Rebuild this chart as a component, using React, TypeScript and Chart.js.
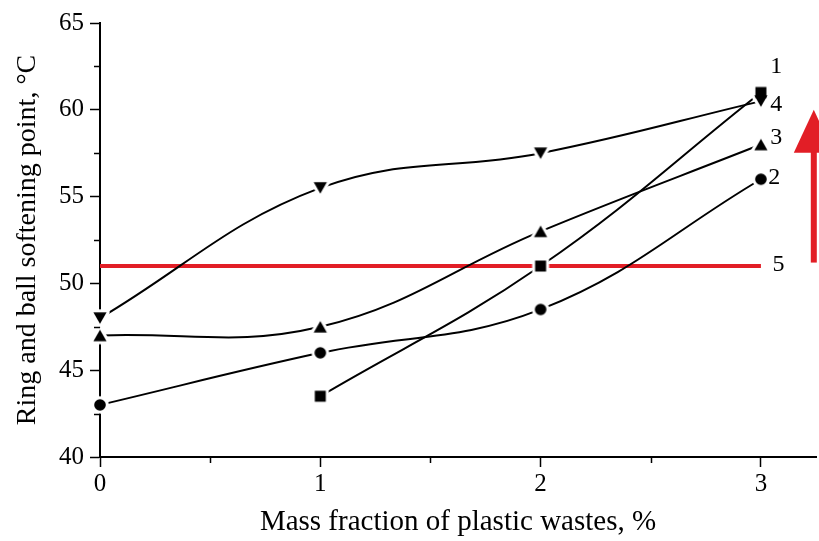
import React, { useEffect, useRef } from 'react';
import { Chart, registerables } from 'chart.js';

Chart.register(...registerables);

// ---- data ----
const fractions = [0, 1, 2, 3];
const curve1 = [null, 43.5, 51, 61];
const curve2 = [43, 46, 48.5, 56];
const curve3 = [47, 47.5, 53, 58];
const curve4 = [48, 55.5, 57.5, 60.5];
const line5Level = 51;
const line5Range = [0, 3];

const xTicks = [0, 1, 2, 3];
const yTicks = [40, 45, 50, 55, 60, 65];
const xMinorTicks = [0.5, 1.5, 2.5];
const yMinorTicks = [42.5, 47.5, 52.5, 57.5, 62.5];

const curveNames = ['1', '2', '3', '4', '5'];
const curveLabelX = [3.07, 3.06, 3.07, 3.07, 3.08];
const curveLabelY = [62.5, 56.1, 58.4, 60.3, 51.05];

const arrowX = 3.24;
const arrowFrom = 51.2;
const arrowTo = 60;

const X_TITLE = 'Mass fraction of plastic wastes, %';
const Y_TITLE = 'Ring and ball softening point, °C';

// ---- styles ----
const FONT = "'Liberation Serif', 'Times New Roman', 'DejaVu Serif', serif";
const RED = 'rgb(226,30,38)';

function makeMarker(kind: string, halo: boolean): HTMLCanvasElement {
  const c = document.createElement('canvas');
  c.width = 26;
  c.height = 26;
  const g = c.getContext('2d')!;
  const cx = 13, cy = 13;
  g.beginPath();
  if (kind === 'square') {
    g.rect(cx - 5.5, cy - 5.5, 11, 11);
  } else if (kind === 'circle') {
    g.arc(cx, cy, 5.8, 0, Math.PI * 2);
  } else if (kind === 'up') {
    g.moveTo(cx, cy - 5.8);
    g.lineTo(cx + 6.6, cy + 5.8);
    g.lineTo(cx - 6.6, cy + 5.8);
    g.closePath();
  } else {
    g.moveTo(cx, cy + 5.8);
    g.lineTo(cx + 6.6, cy - 5.8);
    g.lineTo(cx - 6.6, cy - 5.8);
    g.closePath();
  }
  if (halo) {
    g.lineJoin = 'round';
    g.lineWidth = 6;
    g.strokeStyle = '#fff';
    g.stroke();
    g.fillStyle = '#fff';
  } else {
    g.fillStyle = '#000';
  }
  g.fill();
  return c;
}

const toPoints = (ys: (number | null)[]) =>
  fractions
    .map((x, i) => ({ x, y: ys[i] }))
    .filter((p) => p.y !== null) as { x: number; y: number }[];

const decorPlugin = {
  id: 'decor',
  afterDraw(chart: any) {
    const { ctx, chartArea } = chart;
    const x = chart.scales.x;
    const y = chart.scales.y;
    ctx.save();
    // minor ticks
    ctx.strokeStyle = '#000';
    ctx.lineWidth = 1.5;
    xMinorTicks.forEach((v) => {
      const px = Math.round(x.getPixelForValue(v)) + 0.5;
      ctx.beginPath();
      ctx.moveTo(px, chartArea.bottom);
      ctx.lineTo(px, chartArea.bottom + 6);
      ctx.stroke();
    });
    yMinorTicks.forEach((v) => {
      const py = Math.round(y.getPixelForValue(v)) + 0.5;
      ctx.beginPath();
      ctx.moveTo(chartArea.left, py);
      ctx.lineTo(chartArea.left - 6, py);
      ctx.stroke();
    });
    // curve labels
    ctx.fillStyle = '#000';
    ctx.font = `24px ${FONT}`;
    ctx.textAlign = 'center';
    ctx.textBaseline = 'middle';
    curveNames.forEach((t, i) => {
      ctx.fillText(t, x.getPixelForValue(curveLabelX[i]), y.getPixelForValue(curveLabelY[i]));
    });
    // red arrow
    const ax = x.getPixelForValue(arrowX);
    const y0 = y.getPixelForValue(arrowFrom);
    const y1 = y.getPixelForValue(arrowTo);
    const headLen = 43;
    const headHalf = 20;
    const shaft = 6;
    ctx.fillStyle = RED;
    ctx.fillRect(ax - shaft / 2, y1 + headLen - 1, shaft, y0 - (y1 + headLen) + 1);
    ctx.beginPath();
    ctx.moveTo(ax, y1);
    ctx.lineTo(ax + headHalf, y1 + headLen);
    ctx.lineTo(ax - headHalf, y1 + headLen);
    ctx.closePath();
    ctx.fill();
    ctx.restore();
  },
};

export default function App() {
  const ref = useRef<HTMLCanvasElement | null>(null);

  useEffect(() => {
    if (!ref.current) return;
    const curves = [
      { name: '1', values: curve1, kind: 'square' },
      { name: '2', values: curve2, kind: 'circle' },
      { name: '3', values: curve3, kind: 'up' },
      { name: '4', values: curve4, kind: 'down' },
    ];

    const datasets: any[] = [];
    curves.forEach((c) => {
      const pts = toPoints(c.values);
      // curve (bottom layer)
      datasets.push({
        label: c.name,
        data: pts,
        borderColor: '#000',
        borderWidth: 2,
        tension: 0.4,
        fill: false,
        pointRadius: 0,
        clip: false,
        order: 3,
      });
      // white halo round markers (middle layer)
      datasets.push({
        label: c.name + ' halo',
        data: pts,
        showLine: false,
        pointStyle: makeMarker(c.kind, true),
        pointRadius: 8,
        clip: false,
        order: 2,
      });
      // black markers (top layer)
      datasets.push({
        label: c.name + ' marker',
        data: pts,
        showLine: false,
        pointStyle: makeMarker(c.kind, false),
        pointRadius: 8,
        clip: false,
        order: 1,
      });
    });
    datasets.push({
      label: '5',
      data: line5Range.map((x) => ({ x, y: line5Level })),
      borderColor: RED,
      borderWidth: 4,
      pointRadius: 0,
      tension: 0,
      fill: false,
      order: 3,
    });

    const chart = new Chart(ref.current, {
      type: 'line',
      data: { datasets },
      options: {
        responsive: false,
        animation: false,
        layout: { autoPadding: false, padding: { top: 23, right: 3, left: 0, bottom: 0 } },
        plugins: { legend: { display: false }, tooltip: { enabled: false } },
        scales: {
          x: {
            type: 'linear',
            min: 0,
            max: 3.25,
            z: 1,
            afterBuildTicks: (s: any) => {
              s.ticks = xTicks.map((v) => ({ value: v }));
            },
            afterFit: (s: any) => {
              s.height = 84;
              s.paddingLeft = 0;
              s.paddingRight = 0;
            },
            ticks: {
              color: '#000',
              font: { family: FONT, size: 25 },
              padding: 2,
              maxRotation: 0,
              autoSkip: false,
              includeBounds: false,
              callback: (v: any) => String(v),
            },
            grid: {
              drawOnChartArea: false,
              drawTicks: true,
              tickLength: 10,
              tickColor: '#000',
              tickWidth: 1.5,
            },
            border: { display: true, color: '#000', width: 2 },
            title: {
              display: true,
              text: X_TITLE,
              color: '#000',
              font: { family: FONT, size: 29 },
              padding: { top: 0, bottom: 1.2 },
            },
          },
          y: {
            type: 'linear',
            min: 40,
            max: 65,
            z: 1,
            afterBuildTicks: (s: any) => {
              s.ticks = yTicks.map((v) => ({ value: v }));
            },
            afterFit: (s: any) => {
              s.width = 100;
              s.paddingTop = 0;
              s.paddingBottom = 0;
            },
            ticks: {
              color: '#000',
              font: { family: FONT, size: 25 },
              padding: 6,
              autoSkip: false,
              callback: (v: any) => String(v),
            },
            grid: {
              drawOnChartArea: false,
              drawTicks: true,
              tickLength: 10,
              tickColor: '#000',
              tickWidth: 1.5,
            },
            border: { display: true, color: '#000', width: 2 },
            title: {
              display: true,
              text: Y_TITLE,
              color: '#000',
              font: { family: FONT, size: 28 },
              padding: { top: 11, bottom: 0 },
            },
          },
        },
      } as any,
      plugins: [decorPlugin],
    });
    return () => chart.destroy();
  }, []);

  return (
    <div style={{ position: 'absolute', left: 0, top: 0, width: 819, height: 541, background: '#fff' }}>
      <canvas ref={ref} width={819} height={541} />
    </div>
  );
}
